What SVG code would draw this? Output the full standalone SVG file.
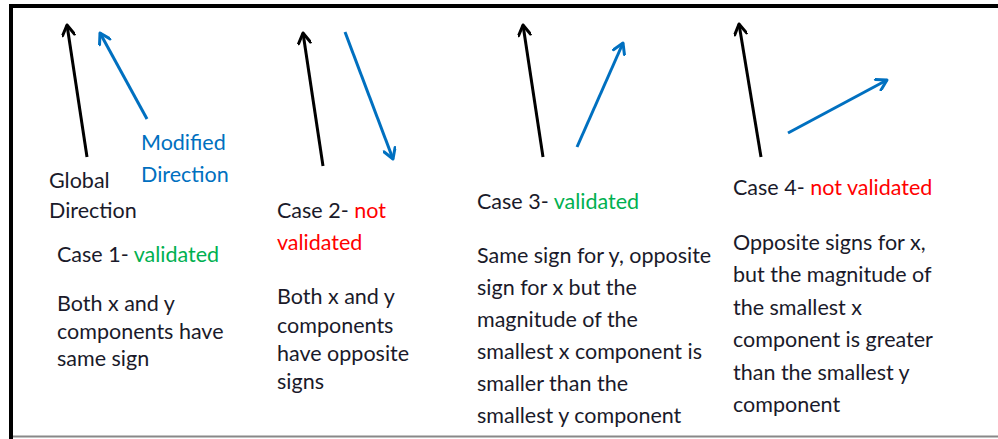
<svg xmlns="http://www.w3.org/2000/svg" width="998" height="439" viewBox="0 0 998 439">
  <defs>
    <marker id="headK" viewBox="0 0 14 14" refX="12" refY="7" markerWidth="14" markerHeight="14" markerUnits="userSpaceOnUse" orient="auto">
      <path d="M2,1 L12,7 L2,13" fill="none" stroke="#000" stroke-width="3" stroke-linecap="round" stroke-linejoin="round"/>
    </marker>
    <marker id="headB" viewBox="0 0 14 14" refX="12" refY="7" markerWidth="14" markerHeight="14" markerUnits="userSpaceOnUse" orient="auto">
      <path d="M2,1 L12,7 L2,13" fill="none" stroke="#0070c0" stroke-width="3" stroke-linecap="round" stroke-linejoin="round"/>
    </marker>
  </defs>
  <style>
    text { font-family: Lato, "Open Sans", "Liberation Sans", sans-serif; font-size: 21.5px; fill: #1a1a2a; }
    .ok { fill: #00b050; }
    .no { fill: #ff0000; }
    .mod { fill: #0070c0; }
    .glob { stroke: #000; stroke-width: 3; fill: none; marker-end: url(#headK); }
    .vec { stroke: #0070c0; stroke-width: 3; fill: none; marker-end: url(#headB); }
  </style>

  <!-- frame -->
  <rect x="0" y="0" width="998" height="439" fill="#fff"/>
  <line x1="9" y1="6" x2="998" y2="6" stroke="#000" stroke-width="4"/>
  <line x1="11" y1="4" x2="11" y2="439" stroke="#000" stroke-width="4"/>
  <line x1="13" y1="436.5" x2="998" y2="436.5" stroke="#888" stroke-width="2"/>

  <!-- direction vectors: black = global, blue = modified -->
  <g id="connectors">
    <line class="glob" x1="87" y1="157" x2="67" y2="25"/>
    <line class="vec" x1="147" y1="119" x2="100" y2="33"/>
    <line class="glob" x1="323" y1="166" x2="303" y2="33"/>
    <line class="vec" x1="345" y1="32" x2="393" y2="159"/>
    <line class="glob" x1="543" y1="157" x2="523" y2="25"/>
    <line class="vec" x1="577" y1="147" x2="623" y2="43"/>
    <line class="glob" x1="761" y1="157" x2="739" y2="24"/>
    <line class="vec" x1="788" y1="133" x2="887" y2="80"/>
  </g>

  <g id="legend">
    <text x="49" y="188">Global</text>
    <text x="49" y="218">Direction</text>
    <text class="mod" x="141" y="150">Modified</text>
    <text class="mod" x="141" y="182">Direction</text>
  </g>

  <g id="case1">
    <text x="57" y="262">Case 1- <tspan class="ok">validated</tspan></text>
    <text x="57" y="311">Both x and y</text>
    <text x="57" y="339">components have</text>
    <text x="57" y="366">same sign</text>
  </g>

  <g id="case2">
    <text x="277" y="218">Case 2- <tspan class="no">not</tspan></text>
    <text class="no" x="277" y="250">validated</text>
    <text x="277" y="304">Both x and y</text>
    <text x="277" y="333">components</text>
    <text x="277" y="361">have opposite</text>
    <text x="277" y="389">signs</text>
  </g>

  <g id="case3">
    <text x="477" y="209">Case 3- <tspan class="ok">validated</tspan></text>
    <text x="477" y="263">Same sign for y, opposite</text>
    <text x="477" y="295">sign for x but the</text>
    <text x="477" y="327">magnitude of the</text>
    <text x="477" y="359">smallest x component is</text>
    <text x="477" y="391">smaller than the</text>
    <text x="477" y="423">smallest y component</text>
  </g>

  <g id="case4">
    <text x="733" y="195">Case 4- <tspan class="no">not validated</tspan></text>
    <text x="733" y="250">Opposite signs for x,</text>
    <text x="733" y="282">but the magnitude of</text>
    <text x="733" y="315">the smallest x</text>
    <text x="733" y="347">component is greater</text>
    <text x="733" y="380">than the smallest y</text>
    <text x="733" y="412">component</text>
  </g>
</svg>
